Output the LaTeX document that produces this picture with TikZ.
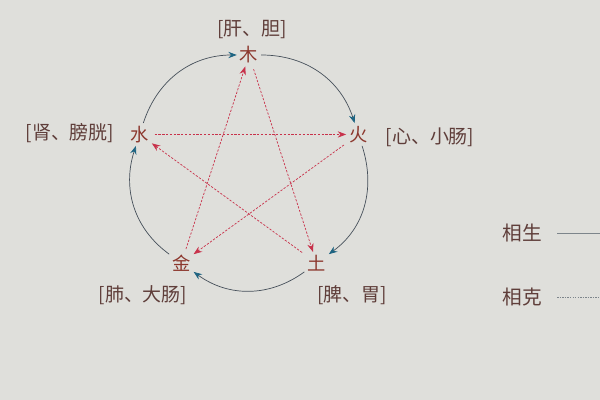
\documentclass[tikz,border=0pt]{standalone}
\usepackage{fontspec}
\setmainfont{Noto Sans CJK SC}
\usetikzlibrary{arrows.meta,positioning}

\definecolor{paper}{RGB}{223,223,219}
\definecolor{wuxing}{RGB}{140,55,45}
\definecolor{organtext}{RGB}{95,62,58}
\definecolor{ring}{RGB}{70,80,90}
\definecolor{ringtip}{RGB}{30,100,130}
\definecolor{ke}{RGB}{200,50,75}

\tikzset{
  elem/.style = {text=wuxing, inner sep=2pt, font=\fontsize{13}{15}\selectfont},
  organ/.style = {text=organtext, inner sep=1pt, font=\fontsize{13.5}{15}\selectfont},
  key/.style = {text=organtext, inner sep=1pt, font=\fontsize{14}{16}\selectfont},
  sheng/.style = {ring, line width=0.5pt, -{Stealth[ringtip, length=6pt, width=4.5pt]}},
  kezhi/.style = {ke, line width=0.5pt, dash pattern=on 1.6pt off 1.1pt, -{Stealth[ke, length=6pt, width=4.5pt]}, shorten <=2pt},
}

\begin{document}
\begin{tikzpicture}
\fill[paper] (0, 0) rectangle (15, 10);
\useasboundingbox (0, 0) rectangle (15, 10);
% five elements
\begin{scope}[shift={(6.225, 5.75)}]
\node[elem] (mu) at (90:2.875) {木};
\node[elem] (huo) at (18:2.875) {火};
\node[elem] (tu) at (-54:2.875) {土};
\node[elem] (jin) at (-126:2.875) {金};
\node[elem] (shui) at (162:2.875) {水};
\end{scope}
% organs
\node[organ] (gan) at (6.3, 9.25) {[肝、胆]};
\node[organ] (shen) at (1.75, 6.675) {[肾、膀胱]};
\node[organ] (xin) at (10.75, 6.575) {[心、小肠]};
\node[organ] (fei) at (3.575, 2.625) {[肺、大肠]};
\node[organ] (pi) at (8.8, 2.625) {[脾、胃]};
% sheng cycle
\draw[sheng] (shui) to [out=72, in=180] (mu);
\draw[sheng] (mu) to [out=0, in=108] (huo);
\draw[sheng] (huo) to [out=-72, in=36] (tu);
\draw[sheng] (tu) to [out=-144, in=-36] (jin);
\draw[sheng] (jin) to [out=144, in=-108] (shui);
% ke cycle
\draw[kezhi] (mu) -- (tu);
\draw[kezhi] (tu) -- (shui);
\draw[kezhi] (shui) -- (huo);
\draw[kezhi] (huo) -- (jin);
\draw[kezhi] (jin) -- (mu);
% legend
\node[key] (shengkey) at (13.05, 4.175) {相生};
\node[key] (kekey) at (13.05, 2.575) {相克};
\coordinate (shengend) at (15.1, 4.1);
\coordinate (keend) at (15.1, 2.55);
\draw[ring!70, line width=0.5pt, shorten <=0.35cm] (shengkey) -- (shengkey -| shengend);
\draw[ring!70, line width=0.5pt, dash pattern=on 1pt off 0.8pt, shorten <=0.35cm] (kekey) -- (kekey -| keend);
\end{tikzpicture}
\end{document}
